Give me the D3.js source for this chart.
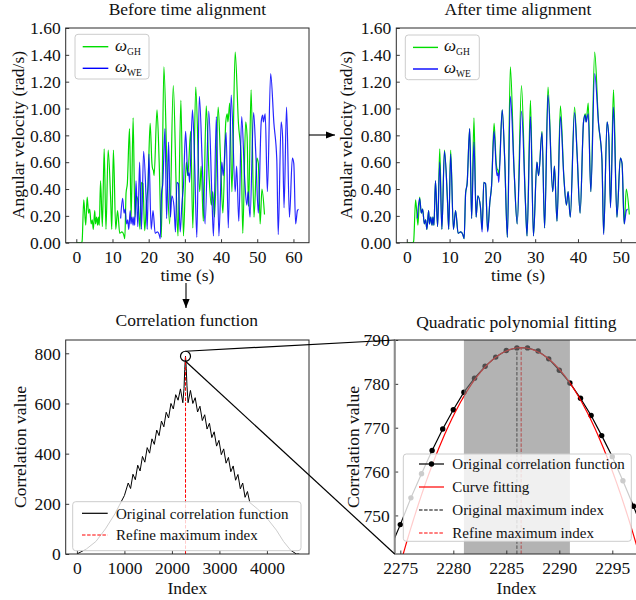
<!DOCTYPE html>
<html><head><meta charset="utf-8">
<script src="https://cdn.jsdelivr.net/npm/d3@7"></script>
<style>
body{margin:0;background:#fff}
svg{display:block}
text{font-family:"Liberation Serif","Times New Roman",serif;fill:#111}
</style>
</head><body>
<svg id="c" width="636" height="600"></svg>
<script>
// ---------------- DATA ----------------
// Gyroscope (GH) angular velocity
const ghTime = [0,1.4,1.6,2.06,2.6,3.0,3.4,3.7,4.1,4.4,4.7,5.1,5.3,5.6,5.9,6.1,6.35,6.7,7.2,7.7,8.2,8.8,9.5,9.8,10.25,10.9,11.4,12.0,12.6,13.1,13.4,13.75,14.1,14.7,15.15,15.7,16.2,16.6,17.2,17.6,18.0,18.4,18.9,19.4,19.8,20.4,20.9,21.1,21.3,21.5,22.3,22.9,23.5,24.2,25.1,25.8,26.8,27.7,28.1,28.9,29.6,30.4,30.8,31.6,32.2,33.0,34.1,34.5,35.1,35.9,36.7,37.3,37.7,38.2,39.2,39.8,40.5,41.3,41.7,41.9,42.4,43.0,43.9,44.8,45.6,46.0,46.8,47.2,47.6,48.3,49.1,49.9,50.3,50.8,51.3,52.0];
const ghVal  = [0,0,0.01,0.32,0.13,0.34,0.22,0.25,0.14,0.17,0.10,0.24,0.14,0.19,0.13,0.19,0.13,0.46,0.12,0.70,0.10,0.69,0.32,0.10,0.69,0.10,0.24,0.07,0.08,0.06,0.03,0.37,0.44,0.85,0.18,0.93,0.19,0.35,0.27,0.10,0.45,0.44,0.09,0.30,0.42,0.89,0.59,0.55,0.54,0.50,0.99,0.60,0.04,1.31,0.52,0.14,1.17,0.32,0.05,1.06,0.05,0.60,0.50,0.83,0.11,1.16,0.38,0.57,0.16,1.02,0.49,0.28,0.38,0.19,1.01,0.66,0.22,0.90,0.96,0.90,1.04,0.38,1.42,0.89,0.62,0.07,0.90,0.79,0.27,1.14,0.19,0.63,0.59,0.14,0.40,0.21];
// Wearable (WE) angular velocity, on the aligned time base
const weTime = [2.45,3.0,3.4,3.7,4.1,4.4,4.7,5.1,5.3,5.6,5.9,6.1,6.35,6.7,7.2,7.7,8.2,8.8,9.5,9.8,10.25,10.9,11.4,12.0,12.6,13.1,13.4,13.75,14.1,14.7,15.15,15.7,16.2,16.6,17.2,17.6,18.0,18.4,18.9,19.4,19.8,20.4,20.9,21.1,21.3,21.5,22.3,22.9,23.5,24.2,25.1,25.8,26.8,27.7,28.1,28.9,29.6,30.4,30.8,31.6,32.2,33.0,34.1,34.5,35.1,35.9,36.7,37.3,37.7,38.2,39.2,39.8,40.5,41.3,41.7,41.9,42.4,43.0,43.9,44.8,45.6,46.0,46.8,47.2,47.6,48.3,49.1,49.9,50.3,50.8,51.3,51.6];
const weVal  = [0.18,0.33,0.22,0.25,0.14,0.17,0.10,0.24,0.14,0.19,0.13,0.19,0.13,0.46,0.12,0.60,0.10,0.68,0.32,0.10,0.66,0.10,0.24,0.07,0.08,0.06,0.03,0.37,0.44,0.85,0.18,0.75,0.19,0.35,0.27,0.08,0.45,0.44,0.08,0.30,0.42,0.83,0.55,0.50,0.52,0.45,0.99,0.60,0.04,1.09,0.52,0.14,0.98,0.32,0.05,0.94,0.05,0.60,0.50,0.82,0.11,1.10,0.38,0.57,0.16,0.94,0.49,0.28,0.38,0.19,0.97,0.66,0.22,0.90,0.95,0.90,0.96,0.38,1.26,0.89,0.62,0.06,0.90,0.79,0.26,1.01,0.19,0.63,0.59,0.14,0.24,0.25];
const weLag = 9.8; // seconds of WE delay before alignment

// Correlation function
const corrIdx = [0,200,400,600,800,1000,1080,1130,1180,1230,1280,1330,1380,1430,1480,1530,1580,1630,1680,1730,1780,1830,1880,1930,1980,2030,2080,2130,2180,2230,2255,2270,2278,2286,2294,2302,2317,2340,2390,2440,2490,2540,2590,2640,2690,2740,2790,2840,2890,2940,2990,3040,3090,3140,3190,3240,3290,3340,3390,3440,3490,3540,3590,3640,3800,4000,4200,4350,4500,4620,4680];
const corrVal = [0,20,50,100,160,233,283,261,318,296,354,331,389,366,424,402,459,437,494,472,530,507,565,542,600,578,635,613,658,603,660,735,765,788,768,738,670,603,652,600,623,566,589,532,555,498,521,464,487,430,453,396,419,362,385,328,351,294,317,260,283,226,249,205,180,143,95,50,15,0,0];

// Zoomed correlation samples
const zoomIdx = [2274,2275,2276,2277,2278,2279,2280,2281,2282,2283,2284,2285,2286,2287,2288,2289,2290,2291,2292,2293,2294,2295,2296,2297,2298];
const zoomVal = [742.2,747.9,754.0,759.5,764.8,769.7,774.1,778.1,781.3,784.0,786.1,787.6,788.2,788.2,787.5,785.7,783.1,780.2,776.7,772.8,768.2,763.4,757.9,752.1,745.9];
const fitWindow = [2281, 2291];
const origMaxIdx = 2286;
const refinedMaxIdx = 2286.4;
const fitPeakVal = 788.25;
const fitCurv = 0.38;   // quadratic: peak - curv*(x-refined)^2

// ---------------- DRAW ----------------
const svg = d3.select('#c');
const FS = 17.5;
const SERIF = '"Liberation Serif","Times New Roman",serif';
const GREEN = '#00dd00', BLUE = '#0000ff';

function frame(x, y, clipId) {
  const [x0, x1] = x.range(), [y0, y1] = y.range();
  svg.append('clipPath').attr('id', clipId).append('rect')
    .attr('x', x0).attr('y', y1).attr('width', x1 - x0).attr('height', y0 - y1);
  return svg.append('g').attr('clip-path', `url(#${clipId})`);
}
function axes(x, y, xt, yt, yfmt, xfmt) {
  const [x0, x1] = x.range(), [y0, y1] = y.range();
  const gx = svg.append('g').attr('transform', `translate(0,${y0})`)
    .call(d3.axisBottom(x).tickValues(xt).tickFormat(xfmt || d3.format('d')).tickSizeInner(-3.5).tickSizeOuter(0).tickPadding(7.4));
  const gy = svg.append('g').attr('transform', `translate(${x0},0)`)
    .call(d3.axisLeft(y).tickValues(yt).tickFormat(yfmt).tickSizeInner(-3.5).tickSizeOuter(0).tickPadding(5));
  [gx, gy].forEach(g => {
    g.attr('font-family', SERIF);
    g.select('.domain').remove();
    g.selectAll('line').attr('stroke', '#222').attr('stroke-width', 0.9);
    g.selectAll('text').attr('font-size', FS).attr('font-family', SERIF).attr('fill', '#111');
  });
  gy.selectAll('text').attr('dy', '0.33em');
  svg.append('rect').attr('x', x0).attr('y', y1).attr('width', x1 - x0).attr('height', y0 - y1)
    .attr('fill', 'none').attr('stroke', '#2a2a2a').attr('stroke-width', 1);
}
function labels(title, tx, ty, xl, xlx, xly, yl, ylx, yly) {
  svg.append('text').attr('x', tx).attr('y', ty).attr('text-anchor', 'middle').attr('font-size', FS).text(title);
  svg.append('text').attr('x', xlx).attr('y', xly).attr('text-anchor', 'middle').attr('font-size', FS).text(xl);
  svg.append('text').attr('transform', `translate(${ylx},${yly}) rotate(-90)`).attr('text-anchor', 'middle')
    .attr('dy', '0.33em').attr('font-size', FS).text(yl);
}
function omegaLegend(bx, by, lx0, lx1, tx) {
  const g = svg.append('g');
  g.append('rect').attr('x', bx).attr('y', by).attr('width', 74).attr('height', 44.7).attr('rx', 3)
    .attr('fill', '#fff').attr('fill-opacity', 0.8).attr('stroke', '#cccccc');
  [[GREEN, 'GH', by + 12.4], [BLUE, 'WE', by + 34]].forEach(([c, s, yy]) => {
    g.append('line').attr('x1', lx0).attr('x2', lx1).attr('y1', yy).attr('y2', yy).attr('stroke', c).attr('stroke-width', 1.4);
    const t = g.append('text').attr('x', tx).attr('y', yy + 4).attr('font-size', 17);
    t.append('tspan').attr('font-style', 'italic').text('ω');
    t.append('tspan').attr('font-size', 9.5).attr('dy', 4).text(s);
  });
}
function velLine(x, y, ts, vs, shift) {
  return d3.line().x((d, i) => x(ts[i] + shift)).y(d => y(d)).curve(d3.curveMonotoneX)(vs);
}

// ---- Panel 1: before alignment
const x1s = d3.scaleLinear([-2.93, 64.3], [65.7, 309]);
const y1s = d3.scaleLinear([0, 1.6], [242.7, 28]);
const yTicksV = d3.range(0, 1.61, 0.2);
const p1 = frame(x1s, y1s, 'cp1');
p1.append('path').attr('d', velLine(x1s, y1s, ghTime, ghVal, 0)).attr('fill', 'none').attr('stroke', GREEN).attr('stroke-width', 1.2);
p1.append('path').attr('d', velLine(x1s, y1s, weTime, weVal, weLag)).attr('fill', 'none').attr('stroke', BLUE).attr('stroke-width', 1.2).attr('stroke-opacity', 0.85);
axes(x1s, y1s, [0, 10, 20, 30, 40, 50, 60], yTicksV, d3.format('.2f'));
labels('Before time alignment', 187.4, 14.5, 'time (s)', 187.4, 281, 'Angular velocity (rad/s)', 18.5, 135);
omegaLegend(75, 34.3, 82.7, 108.3, 115);

// ---- Panel 2: after alignment
const x2s = d3.scaleLinear([-2.45, 54.4], [396.3, 639.6]);
const y2s = d3.scaleLinear([0, 1.6], [242.7, 28]);
const p2 = frame(x2s, y2s, 'cp2');
p2.append('path').attr('d', velLine(x2s, y2s, ghTime, ghVal, 0)).attr('fill', 'none').attr('stroke', GREEN).attr('stroke-width', 1.2);
p2.append('path').attr('d', velLine(x2s, y2s, weTime, weVal, 0)).attr('fill', 'none').attr('stroke', BLUE).attr('stroke-width', 1.2).attr('stroke-opacity', 0.85);
axes(x2s, y2s, [0, 10, 20, 30, 40, 50], yTicksV, d3.format('.2f'));
labels('After time alignment', 518, 15, 'time (s)', 518, 281, 'Angular velocity (rad/s)', 346.5, 135);
omegaLegend(405.3, 35, 413, 438, 444);

// ---- Panel 3: correlation function
const x3s = d3.scaleLinear([-236, 4886], [65.7, 309]);
const y3s = d3.scaleLinear([0, 853], [554, 340]);
const p3 = frame(x3s, y3s, 'cp3');
p3.append('path').attr('d', d3.line().x((d, i) => x3s(corrIdx[i])).y(d => y3s(d))(corrVal))
  .attr('fill', 'none').attr('stroke', '#000').attr('stroke-width', 1);
p3.append('line').attr('x1', x3s(refinedMaxIdx)).attr('x2', x3s(refinedMaxIdx)).attr('y1', y3s(0)).attr('y2', y3s(fitPeakVal))
  .attr('stroke', 'red').attr('stroke-width', 1).attr('stroke-dasharray', '3.5,1.6');
axes(x3s, y3s, [0, 1000, 2000, 3000, 4000], [0, 200, 400, 600, 800], d3.format('d'));
labels('Correlation function', 186.7, 326, 'Index', 187.4, 594, 'Correlation value', 20, 447);
{
  const g = svg.append('g');
  g.append('rect').attr('x', 72.7).attr('y', 501.7).attr('width', 228.3).attr('height', 49).attr('rx', 3)
    .attr('fill', '#fff').attr('fill-opacity', 0.8).attr('stroke', '#cccccc');
  g.append('line').attr('x1', 82).attr('x2', 107.7).attr('y1', 513.3).attr('y2', 513.3).attr('stroke', '#000').attr('stroke-width', 1.2);
  g.append('text').attr('x', 116).attr('y', 518.5).attr('font-size', 15).text('Original correlation function');
  g.append('line').attr('x1', 82).attr('x2', 107.7).attr('y1', 535).attr('y2', 535).attr('stroke', 'red').attr('stroke-width', 1.2).attr('stroke-dasharray', '3.5,1.6');
  g.append('text').attr('x', 116).attr('y', 540.2).attr('font-size', 15).text('Refine maximum index');
}

// ---- Panel 4: quadratic fitting
const x4s = d3.scaleLinear([2274.47, 2297.5], [394.7, 638.8]);
const y4s = d3.scaleLinear([741.2, 790], [554, 340]);
const p4 = frame(x4s, y4s, 'cp4');
p4.append('path').attr('d', d3.line().x((d, i) => x4s(zoomIdx[i])).y(d => y4s(d))(zoomVal))
  .attr('fill', 'none').attr('stroke', '#000').attr('stroke-width', 1.2);
p4.selectAll('circle.pt').data(zoomVal).join('circle').attr('class', 'pt')
  .attr('cx', (d, i) => x4s(zoomIdx[i])).attr('cy', d => y4s(d)).attr('r', 2.7).attr('fill', '#000');
const fitXs = d3.range(2274, 2298.01, 0.1);
p4.append('path').attr('d', d3.line().x(d => x4s(d)).y(d => y4s(fitPeakVal - fitCurv * (d - refinedMaxIdx) ** 2))(fitXs))
  .attr('fill', 'none').attr('stroke', 'red').attr('stroke-width', 1.2);
p4.append('line').attr('x1', x4s(origMaxIdx)).attr('x2', x4s(origMaxIdx)).attr('y1', y4s(741.2)).attr('y2', y4s(788.2))
  .attr('stroke', '#000').attr('stroke-width', 1).attr('stroke-dasharray', '3.5,1.6');
p4.append('line').attr('x1', x4s(refinedMaxIdx)).attr('x2', x4s(refinedMaxIdx)).attr('y1', y4s(741.2)).attr('y2', y4s(fitPeakVal))
  .attr('stroke', 'red').attr('stroke-width', 1).attr('stroke-dasharray', '3.5,1.6');
p4.append('rect').attr('x', x4s(fitWindow[0])).attr('width', x4s(fitWindow[1]) - x4s(fitWindow[0]))
  .attr('y', 340).attr('height', 214).attr('fill', '#808080').attr('fill-opacity', 0.6);
axes(x4s, y4s, [2275, 2280, 2285, 2290, 2295], [750, 760, 770, 780, 790], d3.format('d'));
svg.append('line').attr('x1', 394.7).attr('x2', 394.7).attr('y1', 340).attr('y2', 554).attr('stroke', '#8c8c8c').attr('stroke-width', 2);
labels('Quadratic polynomial fitting', 516.3, 327.5, 'Index', 516.5, 594, 'Correlation value', 353, 447);
{
  const g = svg.append('g');
  g.append('rect').attr('x', 403.3).attr('y', 454).attr('width', 228).attr('height', 87.3).attr('rx', 3)
    .attr('fill', '#fff').attr('fill-opacity', 0.8).attr('stroke', '#cccccc');
  const rows = [
    ['Original correlation function', '#000', null, true, 464],
    ['Curve fitting', 'red', null, false, 487],
    ['Original maximum index', '#000', '3.5,1.6', false, 510],
    ['Refine maximum index', 'red', '3.5,1.6', false, 533]
  ];
  rows.forEach(([t, c, dash, mk, yy]) => {
    g.append('line').attr('x1', 419).attr('x2', 444).attr('y1', yy).attr('y2', yy).attr('stroke', c)
      .attr('stroke-width', 1.2).attr('stroke-dasharray', dash);
    if (mk) g.append('circle').attr('cx', 431.5).attr('cy', yy).attr('r', 2.7).attr('fill', '#000');
    g.append('text').attr('x', 452.3).attr('y', yy + 5.2).attr('font-size', 15).text(t);
  });
}

// ---- Connectors and arrows
const cx = x3s(origMaxIdx), cy = y3s(fitPeakVal), cr = 5;
svg.append('circle').attr('cx', cx).attr('cy', cy).attr('r', cr).attr('fill', 'none').attr('stroke', '#000').attr('stroke-width', 1.2);
svg.append('line').attr('x1', cx).attr('y1', cy - cr).attr('x2', x4s.range()[0]).attr('y2', y4s.range()[1]).attr('stroke', '#000').attr('stroke-width', 1.2);
svg.append('line').attr('x1', cx).attr('y1', cy + cr).attr('x2', x4s.range()[0]).attr('y2', y4s.range()[0]).attr('stroke', '#000').attr('stroke-width', 1.2);

function arrow(xa, ya, xb, yb) {
  svg.append('line').attr('x1', xa).attr('y1', ya).attr('x2', xb).attr('y2', yb).attr('stroke', '#000').attr('stroke-width', 1.1);
  const ang = Math.atan2(yb - ya, xb - xa), L = 9, W = 3.6;
  const bx = xb - L * Math.cos(ang), by = yb - L * Math.sin(ang);
  const px = -Math.sin(ang) * W, py = Math.cos(ang) * W;
  svg.append('path').attr('d', `M${xb},${yb}L${bx + px},${by + py}L${bx - px},${by - py}Z`).attr('fill', '#000');
}
arrow(x1s.range()[1], 135, 335, 135);
arrow(186, 283, 186, 308);
</script>
</body></html>
